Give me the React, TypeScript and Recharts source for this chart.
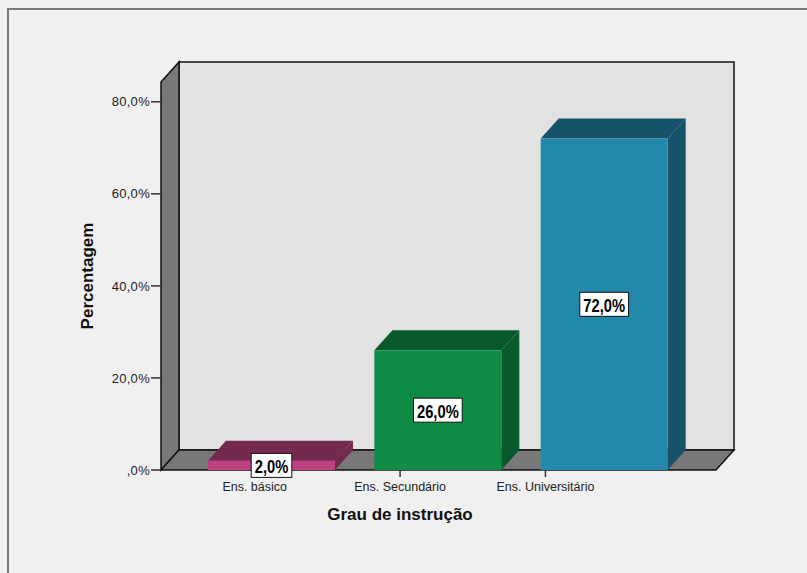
import React from "react";
import { BarChart, Bar, XAxis, YAxis, ReferenceArea, LabelList } from "recharts";

// Grau de instrução — percentagem por categoria
const categories = ["Ens. básico", "Ens. Secundário", "Ens. Universitário"];
const percentages = [2.0, 26.0, 72.0];
const yTicks = [0, 20, 40, 60, 80];
const yMax = 84.3;

const frontColors = ["#bd4180", "#0f8b46", "#2389ab"];
const shadeColors = ["#74294f", "#0a592d", "#16536a"];

const data = categories.map((name, i) => ({ name, value: percentages[i] }));

// 3D depth (SPSS style)
const DX = 18;
const DY = 20;
const PAD_L = 27;
const PAD_R = 29;
const FONT = "'Liberation Sans', Arial, sans-serif";

const pct = (v: number) => (v === 0 ? ",0%" : `${v.toFixed(1).replace(".", ",")}%`);

function Walls(props: any) {
    const { x, y, width, height } = props;
    const left = x - PAD_L;
    const right = x + width + PAD_R;
    const top = y;
    const bottom = y + height;
    return (
        <g>
            <rect x={left + DX} y={top - DY} width={right - left} height={height} fill="#e2e2e2" stroke="#111" strokeWidth={1.5} />
            <polygon
                points={`${left},${top} ${left + DX},${top - DY} ${left + DX},${bottom - DY} ${left},${bottom}`}
                fill="#787878"
                stroke="#111"
                strokeWidth={1.5}
            />
            <polygon
                points={`${left},${bottom} ${left + DX},${bottom - DY} ${right + DX},${bottom - DY} ${right},${bottom}`}
                fill="#787878"
                stroke="#111"
                strokeWidth={1.5}
            />
        </g>
    );
}

function Bar3D(props: any) {
    const { x, y, width, height, index } = props;
    const front = frontColors[index];
    const shade = shadeColors[index];
    return (
        <g>
            <polygon points={`${x},${y} ${x + DX},${y - DY} ${x + width + DX},${y - DY} ${x + width},${y}`} fill={shade} />
            <polygon
                points={`${x + width},${y} ${x + width + DX},${y - DY} ${x + width + DX},${y + height - DY} ${x + width},${y + height}`}
                fill={shade}
            />
            <rect x={x} y={y} width={width} height={height} fill={front} />
        </g>
    );
}

function ValueBadge(props: any) {
    const { x, y, width, height, value } = props;
    const text = pct(Number(value));
    const cx = x + width / 2;
    const cy = y + height / 2;
    let tw = 0;
    for (const ch of text) tw += ch === "," ? 4.1 : ch === "%" ? 13.1 : 8.2;
    const w = tw + 7;
    return (
        <g>
            <rect x={cx - w / 2} y={cy - 12} width={w} height={24} fill="#fff" stroke="#111" strokeWidth={1} />
            {/* condensed bold, like Arial Narrow */}
            <text
                transform={`translate(${cx} ${cy + 1}) scale(0.82 1)`}
                x={0}
                y={0}
                textAnchor="middle"
                dominantBaseline="central"
                fontFamily={FONT}
                fontWeight="bold"
                fontSize={18}
                fill="#000"
            >
                {text}
            </text>
        </g>
    );
}

function CategoryTick(props: any) {
    const { x, y, payload } = props;
    // labels sit on the projected (perspective) position, not on the bar front
    const lx = 17.7 + 0.874 * x;
    return (
        <g>
            <line x1={lx} x2={lx} y1={y - 8} y2={y - 1} stroke="#333" strokeWidth={1.5} />
            <text x={lx} y={y + 13} textAnchor="middle" fontFamily={FONT} fontSize={12.5} fill="#222">
                {payload.value}
            </text>
        </g>
    );
}

export default function App() {
    return (
        <div style={{ position: "fixed", left: 0, top: 0, width: 807, height: 573, background: "#f0f0f0", overflow: "hidden" }}>
            <div
                style={{
                    position: "absolute",
                    left: 7,
                    top: 8,
                    width: 820,
                    height: 600,
                    borderTop: "2px solid #7a7a7a",
                    borderLeft: "2px solid #7a7a7a",
                }}
            />
            <div style={{ position: "absolute", left: 0, top: 0 }}>
                <BarChart width={807} height={573} data={data} margin={{ top: 82, right: 91, bottom: 43, left: 81 }}>
                    <XAxis
                        dataKey="name"
                        padding={{ left: PAD_L, right: PAD_R }}
                        axisLine={false}
                        tickLine={false}
                        interval={0}
                        height={60}
                        tick={CategoryTick}
                        label={(p: any) => (
                            <text
                                x={400}
                                y={p.viewBox.y + 44}
                                textAnchor="middle"
                                dominantBaseline="central"
                                fontFamily={FONT}
                                fontWeight="bold"
                                fontSize={17}
                                fill="#111"
                            >
                                Grau de instrução
                            </text>
                        )}
                    />
                    <YAxis
                        type="number"
                        domain={[0, yMax]}
                        ticks={yTicks}
                        width={80}
                        axisLine={false}
                        tickSize={10}
                        tickMargin={1}
                        tickLine={{ stroke: "#333", strokeWidth: 1.5 }}
                        tickFormatter={pct}
                        tick={{ fontFamily: FONT, fontSize: 13, fill: "#222", letterSpacing: 0.3 }}
                        label={(p: any) => (
                            <text
                                x={p.viewBox.x + 6}
                                y={p.viewBox.y + p.viewBox.height / 2}
                                transform={`rotate(-90 ${p.viewBox.x + 6} ${p.viewBox.y + p.viewBox.height / 2})`}
                                textAnchor="middle"
                                dominantBaseline="central"
                                fontFamily={FONT}
                                fontWeight="bold"
                                fontSize={17}
                                fill="#111"
                            >
                                Percentagem
                            </text>
                        )}
                    />
                    <ReferenceArea y1={0} y2={yMax} ifOverflow="visible" shape={Walls} />
                    <Bar dataKey="value" barSize={127} shape={Bar3D} isAnimationActive={false}>
                        <LabelList dataKey="value" content={ValueBadge} />
                    </Bar>
                </BarChart>
            </div>
        </div>
    );
}
